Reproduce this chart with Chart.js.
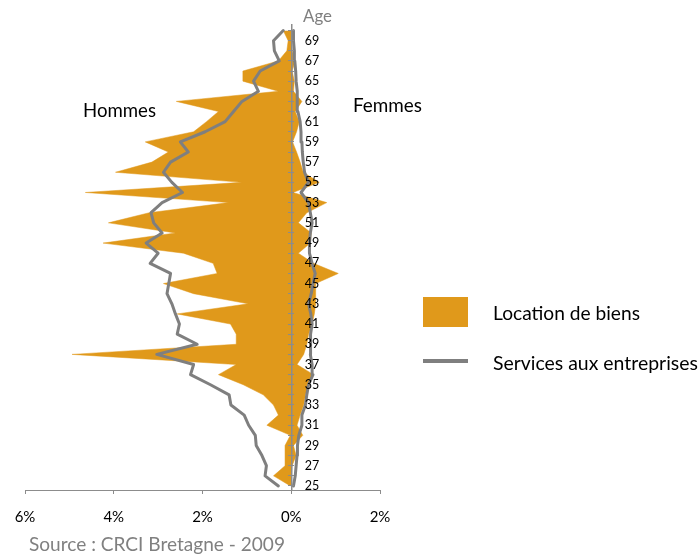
<!DOCTYPE html>
<html>
<head>
<meta charset="utf-8">
<script src="https://cdn.jsdelivr.net/npm/chart.js@4.4.1/dist/chart.umd.min.js"></script>
<style>
html,body{margin:0;padding:0;background:#ffffff;}
#wrap{position:relative;width:700px;height:554px;}
</style>
</head>
<body>
<div id="wrap"><canvas id="c" width="700" height="554"></canvas></div>
<script>
// ---- data (ages, % of workforce) ----
const ages = [25,26,27,28,29,30,31,32,33,34,35,36,37,38,39,40,41,42,43,44,45,46,47,48,49,50,51,52,53,54,55,56,57,58,59,60,61,62,63,64,65,66,67,68,69,70];

// Location de biens – Hommes (left, negative)
const locationHommes = [-0.02,-0.40,-0.14,-0.14,-0.14,-0.02,-0.55,-0.29,-0.40,-0.63,-1.08,-1.64,-1.24,-4.94,-1.24,-1.24,-1.37,-2.57,-0.97,-2.20,-2.88,-1.67,-1.76,-2.43,-4.24,-2.61,-4.12,-3.20,-1.41,-4.64,-1.11,-3.96,-3.14,-2.77,-3.29,-2.20,-1.91,-1.64,-2.59,-0.29,-1.09,-1.09,-0.29,-0.10,-0.07,-0.18];
// Location de biens – Femmes (right, positive)
const locationFemmes = [0.00,0.00,0.02,0.11,0.05,0.26,0.13,0.20,0.28,0.32,0.39,0.50,0.13,0.28,0.35,0.39,0.47,0.52,0.55,0.55,0.55,1.06,0.50,0.16,0.43,0.45,0.16,0.35,0.80,0.04,0.63,0.27,0.20,0.12,0.03,0.12,0.18,0.09,0.24,0.05,0.07,0.02,0.09,0.02,0.00,0.00];
// Services aux entreprises – Hommes
const servicesHommes = [-0.29,-0.59,-0.56,-0.66,-0.79,-0.81,-0.96,-1.06,-1.36,-1.40,-1.82,-2.27,-2.20,-3.03,-2.12,-2.57,-2.52,-2.61,-2.69,-2.80,-2.76,-2.72,-3.18,-3.00,-3.27,-2.91,-3.10,-3.16,-2.91,-2.45,-2.69,-2.88,-2.72,-2.32,-2.50,-1.94,-1.49,-1.30,-1.11,-0.74,-0.85,-0.70,-0.27,-0.38,-0.40,-0.18];
// Services aux entreprises – Femmes
const servicesFemmes = [0.05,0.09,0.11,0.13,0.14,0.17,0.24,0.24,0.32,0.35,0.39,0.49,0.47,0.43,0.43,0.44,0.47,0.44,0.39,0.45,0.49,0.54,0.47,0.41,0.41,0.43,0.47,0.43,0.39,0.22,0.39,0.30,0.27,0.25,0.24,0.22,0.20,0.15,0.14,0.13,0.11,0.10,0.08,0.07,0.05,0.05];

// x tick values (labels shown as absolute %)
const percentTicks = [-6,-4,-2,0,2];
const seriesNames = ['Location de biens','Services aux entreprises'];

// ---- styling ----
const ORANGE = '#E0991B';
const GREY = '#7F7F7F';
const AXIS = '#8C8C8C';
const FONT = 'Lato, "Open Sans", sans-serif';
const AGE_MIN = 24.6, AGE_MAX = 70.55;

const pts = arr => ages.map((a, i) => ({x: arr[i], y: a}));
const ageTicks = s => { s.ticks = ages.map(a => ({value: a})); };

function fitSize(ctx, text, targetW) {
  ctx.font = '100px ' + FONT;
  return 100 * targetW / ctx.measureText(text).width;
}

const textPlugin = {
  id: 'texts',
  afterDraw(chart) {
    const ctx = chart.ctx;
    ctx.save();
    ctx.textAlign = 'left';
    ctx.textBaseline = 'alphabetic';
    const put = (t, x, y, w, color) => {
      const s = fitSize(ctx, t, w);
      ctx.font = s.toFixed(2) + 'px ' + FONT;
      ctx.fillStyle = color;
      ctx.fillText(t, x, y);
    };
    put('Age', 303, 22, 29, '#7F7F7F');
    put('Hommes', 83, 117, 73, '#000000');
    put('Femmes', 353, 112, 69, '#000000');
    // legend
    ctx.fillStyle = chart.data.datasets[2].backgroundColor;
    ctx.fillRect(423, 297, 45, 30);
    ctx.strokeStyle = chart.data.datasets[0].borderColor;
    ctx.lineWidth = 4;
    ctx.beginPath(); ctx.moveTo(423, 361); ctx.lineTo(468, 361); ctx.stroke();
    put(seriesNames[0], 493, 320, 147, '#000000');
    put(seriesNames[1], 493, 370, 205, '#000000');
    put('Source : CRCI Bretagne - 2009', 29, 551, 256, '#808080');
    ctx.restore();
  }
};

const chart = new Chart(document.getElementById('c'), {
  type: 'line',
  data: {
    datasets: [
      {label: seriesNames[1] + ' H', data: pts(servicesHommes), borderColor: GREY, borderWidth: 3, pointRadius: 0, fill: false, tension: 0, order: 0, borderJoinStyle: 'round', borderCapStyle: 'round'},
      {label: seriesNames[1] + ' F', data: pts(servicesFemmes), borderColor: GREY, borderWidth: 3, pointRadius: 0, fill: false, tension: 0, order: 0, borderJoinStyle: 'round', borderCapStyle: 'round'},
      {label: seriesNames[0] + ' H', data: pts(locationHommes), borderColor: ORANGE, backgroundColor: ORANGE, borderWidth: 0.5, pointRadius: 0, fill: 'origin', tension: 0, order: 1},
      {label: seriesNames[0] + ' F', data: pts(locationFemmes), borderColor: ORANGE, backgroundColor: ORANGE, borderWidth: 0.5, pointRadius: 0, fill: 'origin', tension: 0, order: 1}
    ]
  },
  options: {
    responsive: false,
    animation: false,
    indexAxis: 'y',
    layout: {padding: {left: 25, right: 320, top: 25, bottom: 28}},
    plugins: {legend: {display: false}, tooltip: {enabled: false}},
    scales: {
      x: {
        type: 'linear', position: 'bottom', min: -6, max: 2,
        afterBuildTicks: s => { s.ticks = percentTicks.map(v => ({value: v})); },
        ticks: {color: '#000000', font: {family: FONT, size: 15}, padding: 14, callback: v => Math.abs(v) + '%'},
        grid: {drawOnChartArea: false, tickLength: 4, color: AXIS},
        border: {color: AXIS, width: 1}
      },
      y: {
        type: 'linear', position: {x: 0}, min: AGE_MIN, max: AGE_MAX,
        afterBuildTicks: ageTicks,
        ticks: {display: false},
        grid: {drawOnChartArea: false, tickLength: 3, color: AXIS, z: 1},
        border: {color: AXIS, width: 1.5, z: 1}
      },
      y2: {
        type: 'linear', position: {x: 0}, min: AGE_MIN, max: AGE_MAX,
        afterBuildTicks: ageTicks,
        ticks: {display: false},
        grid: {drawOnChartArea: false, tickLength: -3, color: AXIS, z: 1},
        border: {display: false}
      },
      yl: {
        type: 'linear', position: {x: 0.63}, min: AGE_MIN, max: AGE_MAX,
        afterBuildTicks: ageTicks,
        ticks: {autoSkip: false, padding: 0, color: '#000000', font: {family: FONT, size: 12.5}, z: 2,
                callback: v => (v % 2 === 1 ? String(v) : '')},
        grid: {display: false, drawTicks: false},
        border: {display: false}
      }
    }
  },
  plugins: [textPlugin]
});

// make the plot area land exactly where the original one is
const want = {left: 25, top: 25, right: 380, bottom: 490};
for (let k = 0; k < 3; k++) {
  const ca = chart.chartArea;
  const p = chart.options.layout.padding;
  p.left += want.left - ca.left;
  p.top += want.top - ca.top;
  p.right += ca.right - want.right;
  p.bottom += ca.bottom - want.bottom;
  chart.update();
}
</script>
</body>
</html>
